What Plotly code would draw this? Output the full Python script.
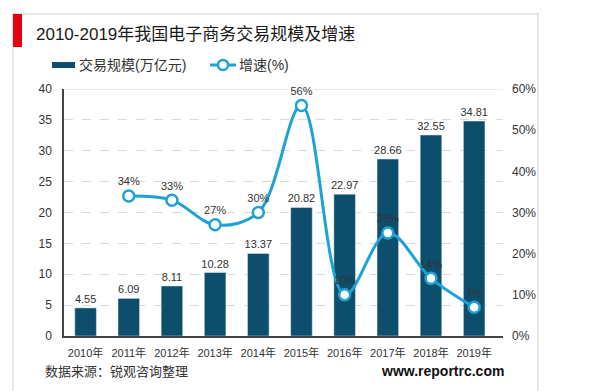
import plotly.graph_objects as go

years = ["2010年", "2011年", "2012年", "2013年", "2014年", "2015年", "2016年", "2017年", "2018年", "2019年"]
scale = [4.55, 6.09, 8.11, 10.28, 13.37, 20.82, 22.97, 28.66, 32.55, 34.81]
growth_years = years[1:]
growth = [34, 33, 27, 30, 56, 10, 25, 14, 7]

BAR = "#0c4e6b"
LINE = "#1ea2d5"
FONT = "Liberation Sans, Arial, Noto Sans CJK SC, sans-serif"

W, H = 600, 391
ML, MR, MT, MB = 56, 105, 81, 63
PW = W - ML - MR
PH = H - MT - MB

def px(x):
    return (x - ML) / PW

def py(y):
    return (H - MB - y) / PH

fig = go.Figure()
fig.add_trace(go.Bar(
    x=years, y=scale, name="交易规模(万亿元)", marker_color=BAR, width=0.5,
    text=[f"{v:.2f}" for v in scale], textposition="outside", constraintext="none",
    textfont=dict(size=11, color="#333333"), cliponaxis=False, showlegend=False,
))
fig.add_trace(go.Scatter(
    x=growth_years, y=[g / 100 for g in growth], name="增速(%)", yaxis="y2",
    mode="lines+markers+text", line=dict(color=LINE, width=3, shape="spline", smoothing=1.0),
    marker=dict(size=11, color="white", line=dict(color=LINE, width=2.5)),
    text=[f"{g}%" for g in growth], textposition="top center",
    textfont=dict(size=11, color="#333333"), cliponaxis=False, showlegend=False,
))

shapes = [
    dict(type="rect", xref="paper", yref="paper", x0=px(5), x1=px(530), y0=py(385), y1=py(6),
         line=dict(color="#e0e0e0", width=1.5), layer="below"),
    dict(type="rect", xref="paper", yref="paper", x0=px(5), x1=px(14), y0=py(39), y1=py(6),
         line=dict(width=0), fillcolor="#e60012"),
    dict(type="rect", xref="paper", yref="paper", x0=px(44), x1=px(67), y0=py(60), y1=py(54),
         line=dict(width=0), fillcolor=BAR),
    dict(type="line", xref="paper", yref="paper", x0=px(202), x1=px(228), y0=py(57), y1=py(57),
         line=dict(color=LINE, width=3)),
    dict(type="circle", xref="paper", yref="paper", x0=px(210), x1=px(220), y0=py(62), y1=py(52),
         line=dict(color=LINE, width=2.5), fillcolor="white"),
    dict(type="line", xref="paper", yref="y", x0=0, x1=1, y0=40, y1=40,
         line=dict(color="#d9d9d9", width=1), layer="below"),
]

annotations = [
    dict(text="2010-2019年我国电子商务交易规模及增速", xref="paper", yref="paper", x=px(26), y=py(27),
         xanchor="left", yanchor="middle", showarrow=False, font=dict(size=17, color="#1a1a1a")),
    dict(text="交易规模(万亿元)", xref="paper", yref="paper", x=px(69), y=py(57),
         xanchor="left", yanchor="middle", showarrow=False, font=dict(size=14, color="#333333")),
    dict(text="增速(%)", xref="paper", yref="paper", x=px(229), y=py(57),
         xanchor="left", yanchor="middle", showarrow=False, font=dict(size=14, color="#333333")),
    dict(text="数据来源：锐观咨询整理", xref="paper", yref="paper", x=px(35), y=py(363),
         xanchor="left", yanchor="middle", showarrow=False, font=dict(size=13, color="#333333")),
    dict(text="<b>www.reportrc.com</b>", xref="paper", yref="paper", x=px(498), y=py(363),
         xanchor="right", yanchor="middle", showarrow=False, font=dict(size=14, color="#111111")),
]

fig.update_layout(
    width=W, height=H, margin=dict(l=ML, r=MR, t=MT, b=MB),
    paper_bgcolor="white", plot_bgcolor="white",
    font=dict(family=FONT, size=11, color="#333333"),
    showlegend=False, bargap=0.5,
    shapes=shapes, annotations=annotations,
    xaxis=dict(showgrid=False, showline=True, linecolor="#444444", linewidth=1.5,
               ticks="", tickfont=dict(size=11, color="#333333"), ticklabelstandoff=6),
    yaxis=dict(range=[0, 40], dtick=5, showgrid=True, gridcolor="#d9d9d9", griddash="dash",
               showline=True, linecolor="#444444", linewidth=1.5, zeroline=False,
               ticks="", tickfont=dict(size=12, color="#333333"), ticklabelstandoff=8),
    yaxis2=dict(range=[0, 0.6], dtick=0.1, tickformat=".0%", overlaying="y", side="right",
                showgrid=False, showline=False, zeroline=False, ticks="",
                tickfont=dict(size=12, color="#333333"), ticklabelstandoff=8),
)

fig.write_html("out.html")
